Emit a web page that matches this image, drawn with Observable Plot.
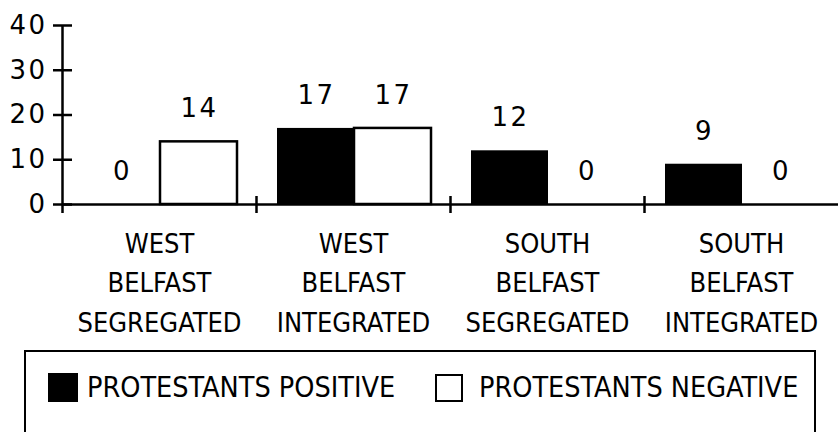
<!DOCTYPE html>
<html>
<head>
<meta charset="utf-8">
<script src="https://cdn.jsdelivr.net/npm/d3@7"></script>
<script src="https://cdn.jsdelivr.net/npm/@observablehq/plot@0.6"></script>
<style>
  body { margin: 0; background: #fff; }
  #wrap { position: relative; width: 838px; height: 432px; overflow: hidden; background: #fff; }
  #chart svg { display: block; }
  g[font-family="DejaVu Sans"] { letter-spacing: 2.5px; }
  #legend {
    position: absolute; left: 24px; top: 350px; width: 792px; height: 120px;
    border: 2.5px solid #000; box-sizing: border-box;
    font-family: "Liberation Sans Narrow", "DejaVu Sans Condensed", sans-serif;
    font-size: 28.5px; color: #000; white-space: nowrap;
  }
  .item { position: absolute; top: 19px; display: flex; align-items: center; white-space: nowrap; }
  .sw { width: 30px; height: 29px; box-sizing: border-box; margin-right: 9px; flex: none; }
</style>
</head>
<body>
<div id="wrap">
  <div id="chart"></div>
  <div id="legend"></div>
</div>
<script>
const categories = ["WEST BELFAST SEGREGATED", "WEST BELFAST INTEGRATED", "SOUTH BELFAST SEGREGATED", "SOUTH BELFAST INTEGRATED"];
const positive = [0, 17, 12, 9];
const negative = [14, 17, 0, 0];
const yTicks = [0, 10, 20, 30, 40];
const seriesNames = ["PROTESTANTS POSITIVE", "PROTESTANTS NEGATIVE"];

const posData = categories.map((c, i) => ({category: c, value: positive[i]}));
const negData = categories.map((c, i) => ({category: c, value: negative[i]}));

const half = 97; // half band width in px
const narrow = "Liberation Sans Narrow, DejaVu Sans Condensed, sans-serif";

const chart = Plot.plot({
  width: 838,
  height: 345,
  marginTop: 25,
  marginBottom: 141,
  marginLeft: 62,
  marginRight: 0,
  x: {domain: categories, padding: 0, axis: null},
  y: {domain: [0, 40], axis: null},
  marks: [
    Plot.barY(posData, {x: "category", y: "value", fill: "#000", insetLeft: 21, insetRight: 96}),
    Plot.barY(negData.filter(d => d.value > 0), {x: "category", y: "value", fill: "#fff", stroke: "#000", strokeWidth: 2.5, insetLeft: 98, insetRight: 19}),
    Plot.ruleY([0], {stroke: "#000", strokeWidth: 2.5}),
    Plot.ruleY(yTicks, {y: d => d, stroke: "#000", strokeWidth: 2.5, insetLeft: -9, insetRight: 766}),
    Plot.ruleX(categories.slice(0, 1), {x: d => d, dx: -half, stroke: "#000", strokeWidth: 2.5, insetBottom: -9}),
    Plot.ruleX(categories.slice(1), {x: d => d, dx: -half, stroke: "#000", strokeWidth: 2.5, insetTop: 171, insetBottom: -9}),
    Plot.text(yTicks, {y: d => d, text: d => String(d), frameAnchor: "left", textAnchor: "end", dx: -15, fontSize: 26, fontFamily: "DejaVu Sans", fill: "#000"}),
    Plot.text(posData, {x: "category", y: "value", text: d => String(d.value), dx: -37, dy: -33, fontSize: 26, fontFamily: "DejaVu Sans", fill: "#000"}),
    Plot.text(negData, {x: "category", y: "value", text: d => String(d.value), dx: 40, dy: -33, fontSize: 26, fontFamily: "DejaVu Sans", fill: "#000"}),
    Plot.text(categories, {x: d => d, text: d => d.split(" ").join("\n"), frameAnchor: "bottom", lineAnchor: "top", dy: 21, lineHeight: 1.45, fontSize: 27, fontFamily: narrow, fill: "#000"})
  ]
});
document.getElementById("chart").appendChild(chart);

const legend = document.getElementById("legend");
const swatchStyles = [
  "background:#000;",
  "background:#fff;border:2px solid #000;width:28px;height:28px;"
];
const lefts = [22, 409];
seriesNames.forEach((name, i) => {
  const item = document.createElement("div");
  item.className = "item";
  item.style.left = lefts[i] + "px";
  const sw = document.createElement("div");
  sw.className = "sw";
  sw.style.cssText += swatchStyles[i];
  if (i === 1) sw.style.marginRight = "16px";
  const label = document.createElement("span");
  label.textContent = name;
  item.appendChild(sw);
  item.appendChild(label);
  legend.appendChild(item);
});
</script>
</body>
</html>
